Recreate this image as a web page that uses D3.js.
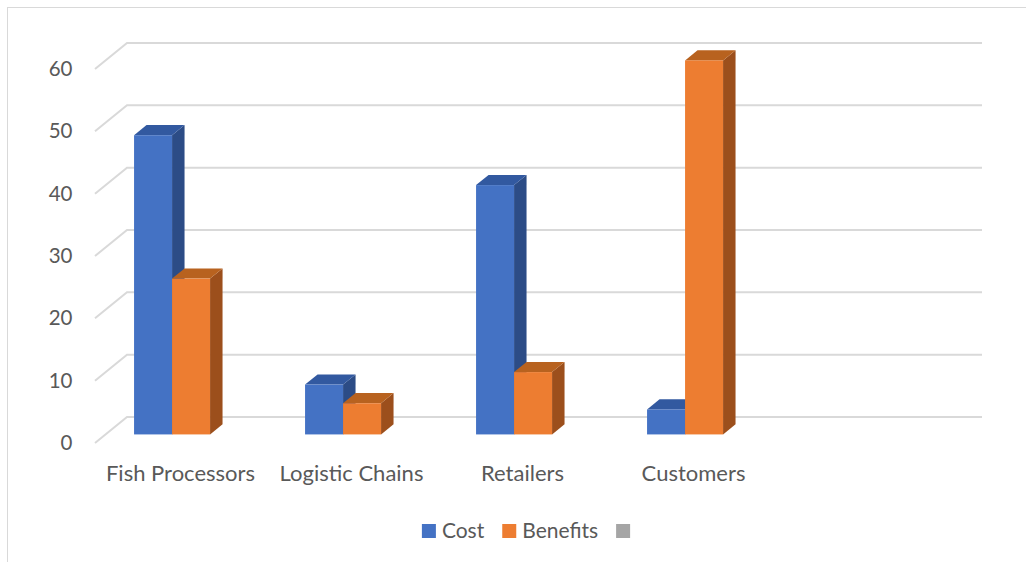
<!DOCTYPE html>
<html>
<head>
<meta charset="utf-8">
<script src="https://cdn.jsdelivr.net/npm/d3@7"></script>
<style>
  html, body { margin: 0; padding: 0; background: #fff; }
  svg { display: block; }
  text { font-family: Lato, "Liberation Sans", sans-serif; fill: #595959; }
</style>
</head>
<body>
<svg id="chart" width="1026" height="562"></svg>
<script>
// Categories (the last slot is an empty category kept by the workbook)
const categories = ["Fish Processors", "Logistic Chains", "Retailers", "Customers", ""];
// Series values
const costValues = [48, 8, 40, 4];
const benefitValues = [25, 5, 10, 60];
// Series names (third series has no name and no values)
const seriesNames = ["Cost", "Benefits", ""];
// Value axis ticks
const yTicks = [0, 10, 20, 30, 40, 50, 60];

const series = [
  { name: seriesNames[0], values: costValues,    front: "#4472c4", top: "#3259a0", side: "#2c4c86" },
  { name: seriesNames[1], values: benefitValues, front: "#ed7d31", top: "#b8621f", side: "#9c4f1c" },
  { name: seriesNames[2], values: [],            front: "#a5a5a5", top: "#7f7f7f", side: "#6e6e6e" }
];

const svg = d3.select("#chart");

// Chart area frame
svg.append("rect")
  .attr("x", 7.5).attr("y", 7.5)
  .attr("width", 1030).attr("height", 570)
  .attr("fill", "none").attr("stroke", "#d9d9d9").attr("stroke-width", 1);

// 3-D floor geometry: front edge of the floor and the depth offset of the back wall
const floorLeft = 95, floorRight = 950;
const depthX = 32, depthY = 26;
const barDepthFront = 0.33, barDepthBack = 0.72;

const x = d3.scaleBand().domain(categories).range([floorLeft, floorRight]).paddingInner(0).paddingOuter(0);
const xs = d3.scaleBand().domain(d3.range(series.length)).range([0, x.bandwidth()]).paddingInner(0).paddingOuter(0.75);
const y = d3.scaleLinear().domain([0, 60]).range([443, 69]);

// Project a point (x on the front plane, value, depth 0..1) onto the page
const P = (px, v, d) => [px + depthX * d, y(v) - depthY * d];

// Gridlines: side wall diagonal + back wall horizontal
const grid = svg.append("g");
grid.selectAll("path").data(yTicks).join("path")
  .attr("d", v => {
    const a = P(floorLeft, v, 0), b = P(floorLeft, v, 1), c = P(floorRight, v, 1);
    return `M${a}L${b}L${c}`;
  })
  .attr("fill", "none").attr("stroke", "#d9d9d9").attr("stroke-width", 2);

// Value axis labels
const yAxis = svg.append("g")
  .attr("transform", `translate(${floorLeft},0)`)
  .call(d3.axisLeft(y).tickValues(yTicks).tickSize(0).tickPadding(22.5));
yAxis.select(".domain").remove();
yAxis.selectAll("text").attr("font-size", 20.5).attr("fill", "#595959")
  .style("font-family", "Lato, 'Liberation Sans', sans-serif");

// Category axis labels
const xAxis = svg.append("g")
  .attr("transform", `translate(0,${y(0)})`)
  .call(d3.axisBottom(x).tickSize(0).tickPadding(22));
xAxis.select(".domain").remove();
xAxis.selectAll("text").attr("font-size", 22).attr("fill", "#595959")
  .style("font-family", "Lato, 'Liberation Sans', sans-serif");

// Bars, drawn left to right so each front face hides its neighbour's side face
const bars = [];
categories.forEach((c, ci) => {
  series.forEach((s, si) => {
    const v = s.values[ci];
    if (v == null) return;
    bars.push({ c, si, v, s });
  });
});

const barG = svg.append("g");
bars.forEach(b => {
  const x0 = x(b.c) + xs(b.si), x1 = x0 + xs.bandwidth();
  const f0 = barDepthFront, f1 = barDepthBack;
  const g = barG.append("g");
  // side face
  g.append("path").attr("fill", b.s.side)
    .attr("d", `M${P(x1, 0, f0)}L${P(x1, 0, f1)}L${P(x1, b.v, f1)}L${P(x1, b.v, f0)}Z`);
  // top face
  g.append("path").attr("fill", b.s.top)
    .attr("d", `M${P(x0, b.v, f0)}L${P(x0, b.v, f1)}L${P(x1, b.v, f1)}L${P(x1, b.v, f0)}Z`);
  // front face
  const tl = P(x0, b.v, f0), br = P(x1, 0, f0);
  g.append("rect").attr("fill", b.s.front)
    .attr("x", tl[0]).attr("y", tl[1])
    .attr("width", br[0] - tl[0]).attr("height", br[1] - tl[1]);
});

// Legend
const legend = svg.append("g");
const items = legend.selectAll("g").data(series).join("g");
items.append("rect").attr("width", 14).attr("height", 14).attr("y", 524).attr("fill", d => d.front);
items.append("text").text(d => d.name).attr("y", 538).attr("font-size", 21);
let cx = 0;
const pos = [];
items.each(function(d) {
  const w = d3.select(this).select("text").node().getComputedTextLength();
  pos.push(cx);
  cx += 14 + (w > 0 ? 6 + w : 0) + 18;
});
const totalW = cx - 18;
const startX = 526 - totalW / 2;
items.each(function(d, i) {
  const g = d3.select(this);
  g.select("rect").attr("x", startX + pos[i]);
  g.select("text").attr("x", startX + pos[i] + 20);
});
</script>
</body>
</html>
